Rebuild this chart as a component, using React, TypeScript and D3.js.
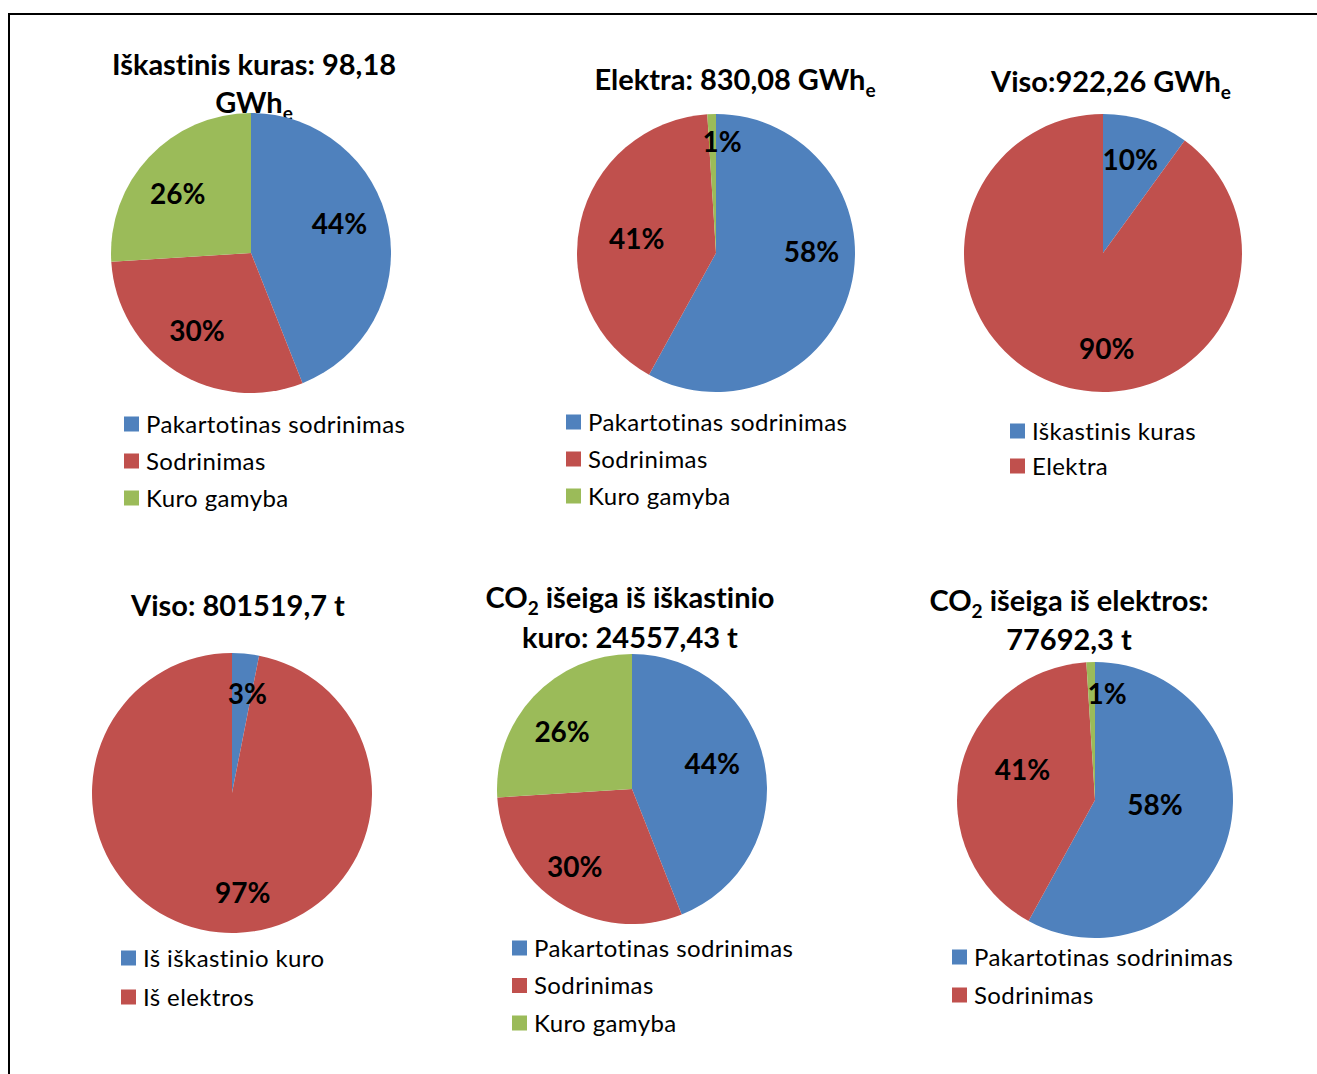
import React from 'react';
import * as d3 from 'd3';

// Office 2007 palette
const SLICE_COLORS = ['#4F81BD', '#C0504D', '#9BBB59'];

const fuelCategories = ['Pakartotinas sodrinimas', 'Sodrinimas', 'Kuro gamyba'];
const fossilShares = [44, 30, 26];
const electricShares = [58, 41, 1];

const totalCategories = ['Iškastinis kuras', 'Elektra'];
const totalShares = [10, 90];

const co2TotalCategories = ['Iš iškastinio kuro', 'Iš elektros'];
const co2TotalShares = [3.1, 96.9];

const co2FossilShares = [44, 30, 26];
const co2ElectricShares = [58, 41, 1];

type Seg = { t: string; sub?: boolean };

const titles: Seg[][][] = [
  [[{ t: 'Iškastinis kuras: 98,18' }], [{ t: 'GWh' }, { t: 'e', sub: true }]],
  [[{ t: 'Elektra: 830,08 GWh' }, { t: 'e', sub: true }]],
  [[{ t: 'Viso:922,26 GWh' }, { t: 'e', sub: true }]],
  [[{ t: 'Viso: 801519,7 t' }]],
  [[{ t: 'CO' }, { t: '2', sub: true }, { t: ' išeiga iš iškastinio' }], [{ t: 'kuro: 24557,43 t' }]],
  [[{ t: 'CO' }, { t: '2', sub: true }, { t: ' išeiga iš elektros:' }], [{ t: '77692,3 t' }]],
];

const charts = [
  { values: fossilShares, names: fuelCategories, legendCount: 3 },
  { values: electricShares, names: fuelCategories, legendCount: 3 },
  { values: totalShares, names: totalCategories, legendCount: 2 },
  { values: co2TotalShares, names: co2TotalCategories, legendCount: 2 },
  { values: co2FossilShares, names: fuelCategories, legendCount: 3 },
  { values: co2ElectricShares, names: fuelCategories, legendCount: 2 },
];

// layout only: centres, radii, title baselines, legend placement, label nudges
const layout = [
  { cx: 251, cy: 253, r: 140, tx: 254, ty: [75, 113], lx: 124, ly: 424, ls: 37, nudge: [[-5, -11], [-3, -2], [-4, 6]] },
  { cx: 716, cy: 253, r: 139, tx: 735, ty: [90], lx: 566, ly: 422, ls: 37, nudge: [[4, -25], [13, 7], [9, -17]] },
  { cx: 1103, cy: 253, r: 139, tx: 1111, ty: [92], lx: 1010, ly: 431, ls: 35, nudge: [[-2, -3], [33, 6]] },
  { cx: 232, cy: 793, r: 140, tx: 238, ty: [616], lx: 121, ly: 958, ls: 39, nudge: [[6, -4], [20, 5]] },
  { cx: 632, cy: 789, r: 135, tx: 630, ty: [608, 648], lx: 512, ly: 948, ls: 37.5, nudge: [[-10, -8], [-8, 0], [-3, 6]] },
  { cx: 1095, cy: 800, r: 138, tx: 1069, ty: [611, 650], lx: 952, ly: 957, ls: 38, nudge: [[-31, -18], [19, -10], [15, -12]] },
];

const FONT = 'Lato, "Open Sans", sans-serif';
const TITLE_SIZE = 29;
const SUB_SIZE = 19;

function PieChart({ idx }: { idx: number }) {
  const c = charts[idx];
  const L = layout[idx];
  const pie = d3.pie<number>().sort(null).value((d) => d);
  const arcs = pie(c.values);
  const total = d3.sum(c.values);
  const arc = d3.arc<d3.PieArcDatum<number>>().innerRadius(0).outerRadius(L.r);
  const labelArc = d3.arc<d3.PieArcDatum<number>>().innerRadius(L.r * 0.68).outerRadius(L.r * 0.68);

  return (
    <g>
      {titles[idx].map((line, li) => (
        <text key={li} x={L.tx} y={L.ty[li]} textAnchor="middle" fontFamily={FONT}
          fontWeight="bold" fontSize={TITLE_SIZE} fill="#000">
          {line.map((s, si) => {
            const prevSub = si > 0 && line[si - 1].sub;
            return (
              <tspan key={si} fontSize={s.sub ? SUB_SIZE : TITLE_SIZE} dy={s.sub ? 7 : prevSub ? -7 : 0}>
                {s.t}
              </tspan>
            );
          })}
        </text>
      ))}
      <g transform={`translate(${L.cx},${L.cy})`}>
        {arcs.map((a, i) => (
          <path key={i} d={arc(a) || ''} fill={SLICE_COLORS[i]} />
        ))}
        {arcs.map((a, i) => {
          const [x, y] = labelArc.centroid(a);
          const n = L.nudge[i] || [0, 0];
          return (
            <text key={i} x={x + n[0]} y={y + n[1]} dy="0.36em" textAnchor="middle"
              fontFamily={FONT} fontWeight="bold" fontSize={28} fill="#000">
              {Math.round((a.data / total) * 100)}%
            </text>
          );
        })}
      </g>
      {c.names.slice(0, c.legendCount).map((name, i) => (
        <g key={name} transform={`translate(${L.lx},${L.ly + i * L.ls})`}>
          <rect x={0} y={-7.5} width={15} height={15} fill={SLICE_COLORS[i]} />
          <text x={22} y={0} dy="0.36em" fontFamily={FONT} fontSize={24} letterSpacing={0.4} fill="#000">
            {name}
          </text>
        </g>
      ))}
    </g>
  );
}

export default function App() {
  return (
    <svg width={1317} height={1074}
      style={{ position: 'absolute', left: 0, top: 0, background: '#fff', fontVariantLigatures: 'none' }}>
      <rect x={9} y={14} width={1330} height={1080} fill="none" stroke="#000" strokeWidth={2} />
      {charts.map((_, i) => (
        <PieChart key={i} idx={i} />
      ))}
    </svg>
  );
}
